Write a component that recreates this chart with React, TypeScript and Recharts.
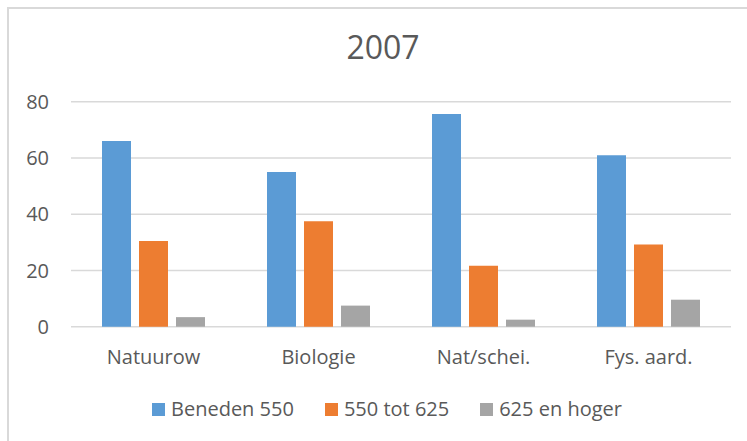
import { Bar, BarChart, CartesianGrid, XAxis, YAxis } from "recharts";

const categories = ["Natuurow", "Biologie", "Nat/schei.", "Fys. aard."];
const beneden550 = [66, 55, 75.6, 61];
const tot625 = [30.5, 37.5, 21.7, 29.2];
const enHoger = [3.4, 7.5, 2.5, 9.6];
const yTicks = [0, 20, 40, 60, 80];

const seriesNames = ["Beneden 550", "550 tot 625", "625 en hoger"];
const seriesColors = ["#5B9BD5", "#ED7D31", "#A5A5A5"];

const data = categories.map((name, i) => ({
  name,
  beneden: beneden550[i],
  tot: tot625[i],
  hoger: enHoger[i],
}));

const FONT = "'Open Sans', sans-serif";
const TEXT = "#595959";

export default function App() {
  return (
    <div
      style={{
        position: "absolute",
        left: 0,
        top: 0,
        width: 747,
        height: 441,
        overflow: "hidden",
        background: "#fff",
        fontFamily: FONT,
      }}
    >
      {/* chart frame */}
      <div
        style={{
          position: "absolute",
          left: 7,
          top: 7,
          width: 800,
          height: 500,
          border: "2px solid #D9D9D9",
        }}
      />

      <div
        style={{
          position: "absolute",
          left: 283,
          top: 30.6,
          width: 200,
          textAlign: "center",
          fontSize: 32,
          lineHeight: "32px",
          color: TEXT,
        }}
      >
        2007
      </div>

      <div style={{ position: "absolute", left: 0, top: 0 }}>
        <BarChart
          width={747}
          height={441}
          data={data}
          margin={{ top: 101.7, right: 16, left: 0, bottom: 74.3 }}
          barSize={29}
          barGap={8}
        >
          <CartesianGrid vertical={false} stroke="#D9D9D9" strokeWidth={1.5} />
          <XAxis
            dataKey="name"
            axisLine={false}
            tickLine={false}
            height={40}
            tickMargin={17.3}
            interval={0}
            tick={{ fill: TEXT, fontSize: 20, fontFamily: FONT }}
          />
          <YAxis
            domain={[0, 80]}
            ticks={yTicks}
            axisLine={false}
            tickLine={false}
            width={71}
            tickMargin={16}
            tick={{ fill: TEXT, fontSize: 20, fontFamily: FONT }}
          />
          <Bar dataKey="beneden" name={seriesNames[0]} fill={seriesColors[0]} isAnimationActive={false} />
          <Bar dataKey="tot" name={seriesNames[1]} fill={seriesColors[1]} isAnimationActive={false} />
          <Bar dataKey="hoger" name={seriesNames[2]} fill={seriesColors[2]} isAnimationActive={false} />
        </BarChart>
      </div>

      <div
        style={{
          position: "absolute",
          left: 152,
          top: 399.2,
          display: "flex",
          alignItems: "center",
          gap: 31,
          fontSize: 20,
          lineHeight: "20px",
          color: TEXT,
          whiteSpace: "nowrap",
        }}
      >
        {seriesNames.map((name, i) => (
          <div key={name} style={{ display: "flex", alignItems: "center", gap: 6 }}>
            <span style={{ width: 13, height: 13, background: seriesColors[i], display: "inline-block" }} />
            <span>{name}</span>
          </div>
        ))}
      </div>
    </div>
  );
}
